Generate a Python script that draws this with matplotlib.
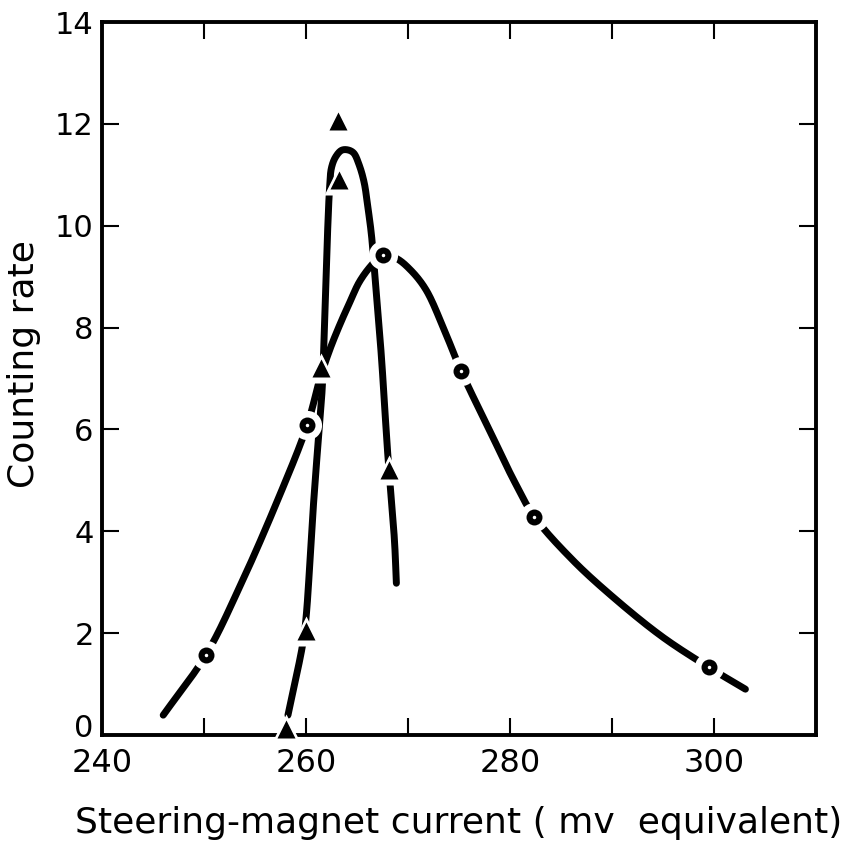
import numpy as np
import matplotlib
matplotlib.use("Agg")
import matplotlib.pyplot as plt
from matplotlib.transforms import ScaledTranslation

# Measured points
circle_x = [250.2, 260.1, 267.5, 275.2, 282.4, 299.5]
circle_y = [1.57, 6.09, 9.42, 7.15, 4.29, 1.33]
triangle_x = [258.0, 260.0, 261.5, 263.2, 263.1, 268.1]
triangle_y = [0.12, 2.05, 7.2, 10.9, 12.05, 5.2]

# Hand-drawn guide curves (knots along each curve)
circ_curve_x = [246.0, 250.18, 253.5, 257.09, 260.13, 261.33, 262.3, 263.3, 264.3,
                265.24, 266.4, 267.47, 268.84, 270.3, 271.77, 273.5, 275.2, 278.29,
                280.4, 282.37, 286.12, 290.03, 294.92, 299.49, 303.08]
circ_curve_y = [0.39, 1.57, 2.91, 4.55, 6.09, 6.97, 7.55, 8.05, 8.5,
                8.9, 9.22, 9.42, 9.36, 9.12, 8.74, 7.98, 7.15, 5.86,
                4.99, 4.29, 3.44, 2.72, 1.93, 1.33, 0.9]
tri_curve_x = [258.23, 259.7, 260.03, 260.67, 261.33, 261.59, 261.8, 262.31, 262.5,
               262.9, 263.48, 264.07, 264.66, 265.2, 265.7, 266.06, 266.4, 266.71,
               267.37, 268.01, 268.67, 268.86]
tri_curve_y = [0.39, 1.81, 2.36, 4.35, 6.13, 6.81, 8.01, 10.74, 11.14,
               11.35, 11.48, 11.49, 11.43, 11.2, 10.85, 10.37, 9.85, 9.13,
               7.49, 5.53, 3.83, 2.98]

x_ticks = [240, 260, 280, 300]
x_minor = [250, 270, 290, 310]
y_ticks = [0, 2, 4, 6, 8, 10, 12, 14]


def catmull_rom(xs, ys, yscale=5.0, n=30):
    # centripetal Catmull-Rom through the knots, y stretched to match the page
    p = np.column_stack([xs, np.asarray(ys) * yscale]).astype(float)
    p = np.vstack([2 * p[0] - p[1], p, 2 * p[-1] - p[-2]])
    out = []
    for i in range(1, len(p) - 2):
        p0, p1, p2, p3 = p[i - 1], p[i], p[i + 1], p[i + 2]
        t0 = 0.0
        t1 = t0 + np.linalg.norm(p1 - p0) ** 0.5
        t2 = t1 + np.linalg.norm(p2 - p1) ** 0.5
        t3 = t2 + np.linalg.norm(p3 - p2) ** 0.5
        t = np.linspace(t1, t2, n)[:, None]
        a1 = (t1 - t) / (t1 - t0) * p0 + (t - t0) / (t1 - t0) * p1
        a2 = (t2 - t) / (t2 - t1) * p1 + (t - t1) / (t2 - t1) * p2
        a3 = (t3 - t) / (t3 - t2) * p2 + (t - t2) / (t3 - t2) * p3
        b1 = (t2 - t) / (t2 - t0) * a1 + (t - t0) / (t2 - t0) * a2
        b2 = (t3 - t) / (t3 - t1) * a2 + (t - t1) / (t3 - t1) * a3
        c = (t2 - t) / (t2 - t1) * b1 + (t - t1) / (t2 - t1) * b2
        out.append(c)
    c = np.vstack(out)
    return c[:, 0], c[:, 1] / yscale


plt.rcParams['font.family'] = ['DejaVu Sans']

fig = plt.figure(figsize=(8.55, 8.43), dpi=100)
ax = fig.add_axes([0.1193, 0.1281, 0.8351, 0.8458])

cx, cy = catmull_rom(circ_curve_x, circ_curve_y)
tx, ty = catmull_rom(tri_curve_x, tri_curve_y)
ax.plot(cx, cy, color="black", lw=5, solid_capstyle="round", zorder=2)
ax.plot(tx, ty, color="black", lw=5, solid_capstyle="round", zorder=2)

# white gaps around the points
ax.plot(circle_x, circle_y, "o", ms=21, color="white", mec="none", zorder=3, clip_on=False)
ax.plot(triangle_x, triangle_y, "^", ms=22, color="white", mec="none", zorder=3, clip_on=False)

ax.plot(circle_x, circle_y, "o", ms=11.5, color="black", mec="none", zorder=4)
ax.plot(circle_x, circle_y, "o", ms=2.5, color="white", mec="none", zorder=5)
ax.plot(triangle_x, triangle_y, "^", ms=12.5, color="black", mec="none", zorder=4,
        clip_on=False)

ax.set_xlim(240, 310)
ax.set_ylim(0, 14)
ax.set_xticks(x_ticks)
ax.set_xticks(x_minor, minor=True)
ax.set_yticks(y_ticks)
ax.tick_params(which="both", direction="in", length=12, width=1.5,
               top=True, right=True)
ax.tick_params(axis="x", pad=9, labelsize=23)
ax.tick_params(axis="y", pad=6, labelsize=22)
for s in ax.spines.values():
    s.set_linewidth(2.8)

# lift the "0" so it clears the x labels
zero = ax.get_yticklabels()[0]
zero.set_transform(zero.get_transform() + ScaledTranslation(0, 7 / 72, fig.dpi_scale_trans))

ax.set_xlabel("Steering-magnet current ( mv  equivalent)", fontsize=26, labelpad=20)
ax.set_ylabel("Counting rate", fontsize=26)
ax.yaxis.set_label_coords(-0.085, 0.52)

fig.savefig("out.png", dpi=100)
plt.close(fig)
